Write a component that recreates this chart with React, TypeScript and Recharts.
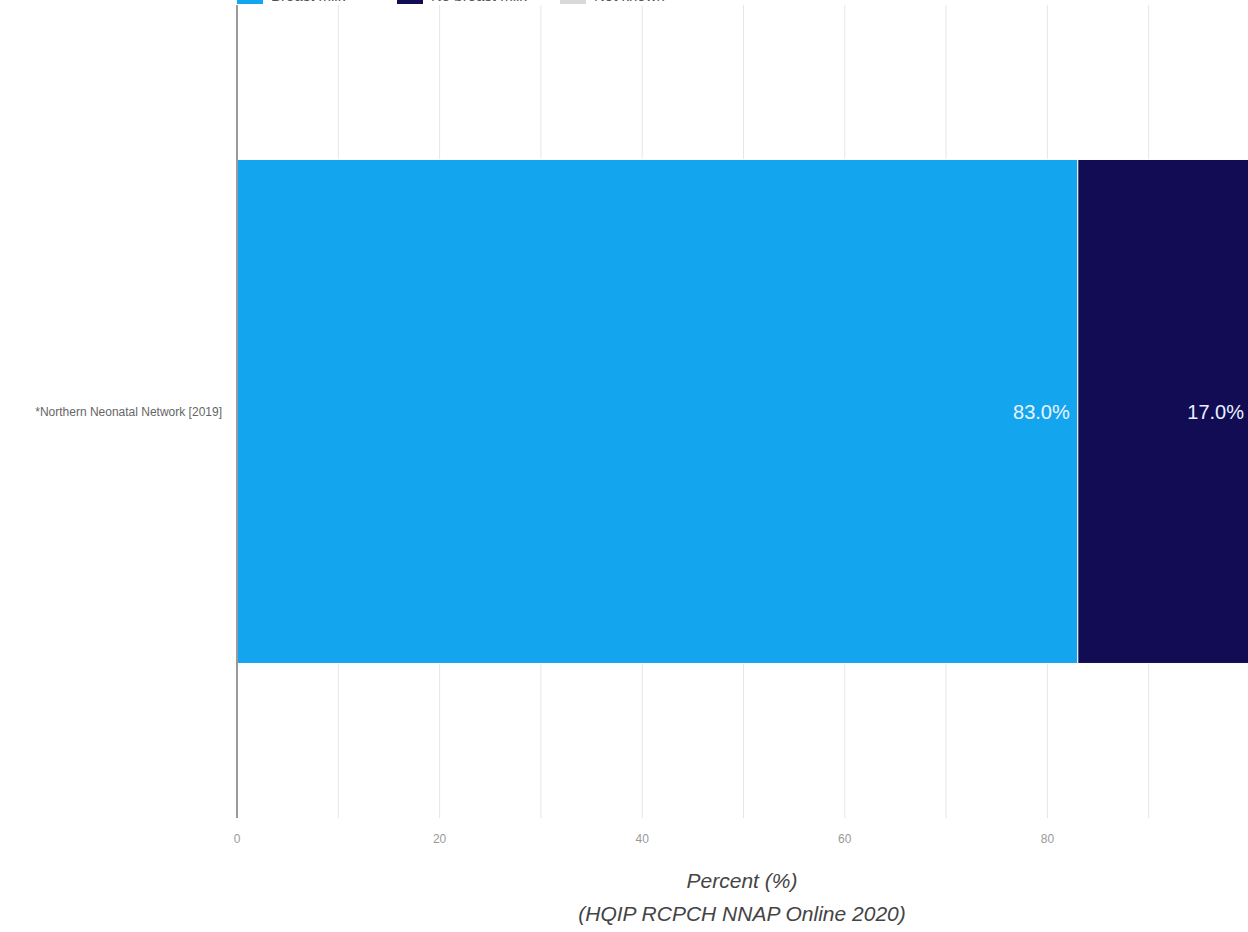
import { Bar, BarChart, CartesianGrid, LabelList, XAxis, YAxis } from 'recharts';

const categories = ['*Northern Neonatal Network [2019]'];
const givenValues = [83.0];
const notGivenValues = [17.0];
const notKnownValues = [0];
const xTicks = [0, 10, 20, 30, 40, 50, 60, 70, 80, 90, 100];
const seriesNames = ['Breast milk', 'No breast milk', 'Not known'];
const axisTitle = 'Percent (%)';
const sourceNote = '(HQIP RCPCH NNAP Online 2020)';

const FONT = '"Liberation Sans", Arial, sans-serif';
const LIGHT = '#14A5EF';
const DARK = '#110C54';
const GREY = '#D9D9D9';

const data = categories.map((name, i) => ({
  name,
  given: givenValues[i],
  notGiven: notGivenValues[i],
  notKnown: notKnownValues[i],
}));

const pct = (v: any) => (v > 0 ? `${Number(v).toFixed(1)}%` : '');

// legend sits mostly above the visible page, like the cropped original
const LegendTop = () => {
  const colors = [LIGHT, DARK, GREY];
  const lefts = [237, 397, 560];
  return (
    <div style={{ position: 'absolute', left: 0, top: -13, height: 16, width: 1248 }}>
      {seriesNames.map((s, i) => (
        <div key={s} style={{ position: 'absolute', left: lefts[i], top: 0, display: 'flex', alignItems: 'center' }}>
          <div style={{ width: 26, height: 16, background: colors[i], marginRight: 8 }} />
          <span style={{ fontFamily: FONT, fontSize: 15, color: '#555' }}>{s}</span>
        </div>
      ))}
    </div>
  );
};

const AxisTitle = (props: any) => {
  const { viewBox } = props;
  const cx = 742;
  const y = viewBox.y;
  return (
    <g>
      <text x={cx} y={y + 70} textAnchor="middle" fontFamily={FONT} fontStyle="italic" fontSize={21} fill="#444">
        {axisTitle}
      </text>
      <text x={cx} y={y + 103} textAnchor="middle" fontFamily={FONT} fontStyle="italic" fontSize={21} fill="#444">
        {sourceNote}
      </text>
    </g>
  );
};

export default function App() {
  return (
    <div style={{ position: 'fixed', left: 0, top: 0, width: 1248, height: 932, overflow: 'hidden', background: '#fff' }}>
      <LegendTop />
      <BarChart
        width={1250}
        height={932}
        data={data}
        layout="vertical"
        margin={{ top: 5, right: 0, bottom: 0, left: 0 }}
        barCategoryGap="19%"
      >
        <CartesianGrid horizontal={false} stroke="#E6E6E6" />
        <XAxis
          type="number"
          domain={[0, 100]}
          ticks={xTicks}
          interval={0}
          axisLine={false}
          tickLine={false}
          height={114}
          tick={{ fontFamily: FONT, fontSize: 12, fill: '#999' }}
          tickFormatter={(v: number) => (v % 20 === 0 && v < 100 ? String(v) : '')}
          tickMargin={10}
          label={<AxisTitle />}
        />
        <YAxis
          type="category"
          dataKey="name"
          width={237}
          axisLine={{ stroke: '#9A9A9A', strokeWidth: 2 }}
          tickLine={false}
          tick={{ fontFamily: FONT, fontSize: 12, fill: '#666' }}
          tickMargin={9}
        />
        <Bar dataKey="given" stackId="a" fill={LIGHT} stroke="#fff" strokeWidth={1} isAnimationActive={false}>
          <LabelList dataKey="given" position="insideRight" offset={8} formatter={pct} fill="#EAF4FF" fontFamily={FONT} fontSize={20} />
        </Bar>
        <Bar dataKey="notGiven" stackId="a" fill={DARK} stroke="#fff" strokeWidth={1} isAnimationActive={false}>
          <LabelList dataKey="notGiven" position="insideRight" offset={6} formatter={pct} fill="#EAF0FF" fontFamily={FONT} fontSize={20} />
        </Bar>
        <Bar dataKey="notKnown" stackId="a" fill={GREY} isAnimationActive={false} />
      </BarChart>
    </div>
  );
}
